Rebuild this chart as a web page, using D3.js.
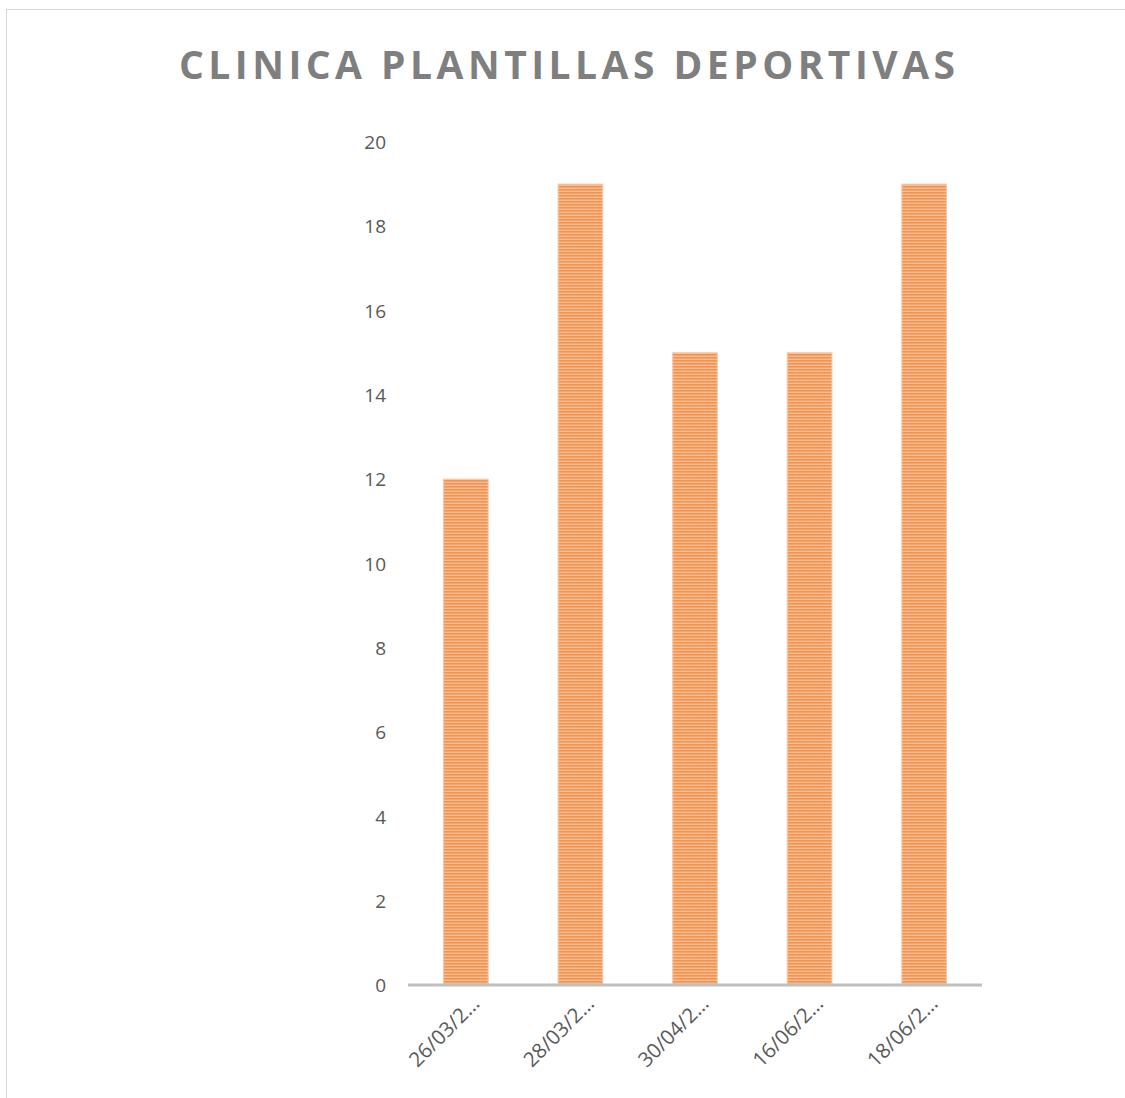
<!DOCTYPE html>
<html>
<head>
<meta charset="utf-8">
<script src="https://cdn.jsdelivr.net/npm/d3@7"></script>
<style>
  body { margin: 0; background: #fff; }
  .tick text { font-family: "Open Sans", sans-serif; fill: #595959; }
</style>
</head>
<body>
<svg id="chart" width="1125" height="1098"></svg>
<script>
var fechas = ["26/03/2…", "28/03/2…", "30/04/2…", "16/06/2…", "18/06/2…"];
var pacientes = [12, 19, 15, 15, 19];
var yTicks = [0, 2, 4, 6, 8, 10, 12, 14, 16, 18, 20];

var svg = d3.select("#chart"),
    width = +svg.attr("width"),
    height = +svg.attr("height");

// borde del area del grafico
svg.append("rect")
    .attr("x", 6.5).attr("y", 9.5)
    .attr("width", width).attr("height", height)
    .attr("fill", "white")
    .attr("stroke", "#d9d9d9");

// relleno de rayas horizontales
var pat = svg.append("defs").append("pattern")
    .attr("id", "rayas")
    .attr("patternUnits", "userSpaceOnUse")
    .attr("width", 8).attr("height", 3);
pat.append("rect").attr("width", 8).attr("height", 3).attr("fill", "#f9bd93");
pat.append("rect").attr("width", 8).attr("height", 1.6).attr("fill", "#f4934f");

svg.append("text")
    .attr("x", 567).attr("y", 79)
    .attr("text-anchor", "middle")
    .attr("font-family", "'Open Sans', sans-serif")
    .attr("font-weight", "bold")
    .attr("font-size", 39)
    .attr("fill", "#7f7f7f")
    .attr("textLength", 776)
    .attr("lengthAdjust", "spacing")
    .text("CLINICA PLANTILLAS DEPORTIVAS");

var x = d3.scaleBand().domain(fechas).range([408, 982]).paddingInner(0.61).paddingOuter(0.31);
var y = d3.scaleLinear().domain([0, 20]).range([985, 142]);

var yAxis = svg.append("g")
    .attr("transform", "translate(386,0)")
    .call(d3.axisLeft(y).tickValues(yTicks).tickSize(0).tickPadding(0));
yAxis.select(".domain").remove();
yAxis.selectAll("text").attr("font-size", 19).attr("dy", "0.35em");

svg.append("g")
    .selectAll("rect")
    .data(pacientes)
    .enter().append("rect")
    .attr("x", function(d, i) { return x(fechas[i]); })
    .attr("y", function(d) { return y(d); })
    .attr("width", x.bandwidth())
    .attr("height", function(d) { return y(0) - y(d); })
    .attr("fill", "url(#rayas)")
    .attr("stroke", "#f2c9a9")
    .attr("stroke-width", 1);

var xAxis = svg.append("g")
    .attr("transform", "translate(0," + y(0) + ")")
    .call(d3.axisBottom(x).tickSize(0).tickPadding(0));
xAxis.select(".domain").attr("stroke", "#bfbfbf").attr("stroke-width", 3).attr("d", "M408,0H982");
xAxis.selectAll("text")
    .attr("font-size", 20.5)
    .attr("text-anchor", "end")
    .attr("dy", null)
    .attr("transform", "translate(15,20) rotate(-45)");
</script>
</body>
</html>
